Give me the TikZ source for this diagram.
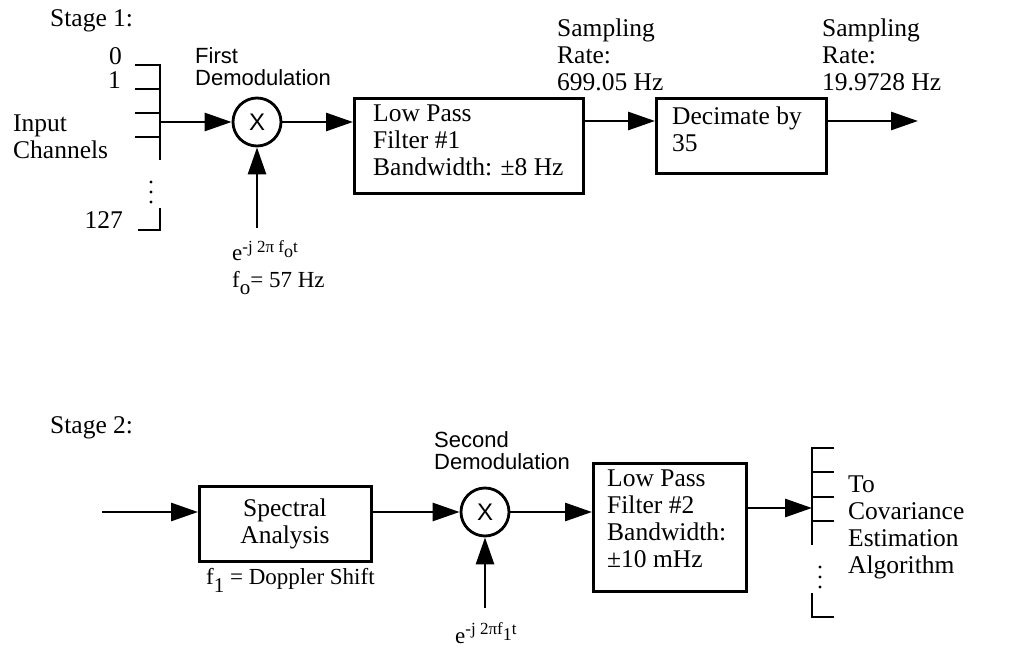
\documentclass[tikz,border=0pt]{standalone}
\usepackage{fontspec}
\setmainfont{Liberation Serif}
\newfontfamily\hsans{Liberation Sans}
\usetikzlibrary{arrows.meta}
\newcommand{\supx}[1]{\raisebox{9pt}{\fontsize{17}{17}\selectfont #1}}
\newcommand{\subx}[1]{\raisebox{-6pt}{\fontsize{18}{18}\selectfont #1}}
\newcommand{\subb}[1]{\raisebox{-8pt}{\fontsize{21}{21}\selectfont #1}}
\begin{document}
\begin{tikzpicture}[x=1pt,y=-1pt,
  txt/.style={inner sep=0pt,font=\fontsize{25.5}{27}\selectfont},
  sml/.style={inner sep=0pt,font=\fontsize{23}{24}\selectfont},
  sans/.style={inner sep=0pt,align=left,font=\hsans\fontsize{22}{22}\selectfont},
  blk/.style={draw,line width=2.8pt,rectangle,inner sep=0pt},
  mix/.style={draw,line width=2.8pt,circle,minimum size=48pt,inner sep=0pt,font=\hsans\fontsize{24}{24}\selectfont},
  flow/.style={line width=2.8pt,-{Triangle[length=27pt,width=18pt]}},
  brk/.style={line width=1.7pt},
  dot/.style={fill,circle,inner sep=0pt,minimum size=3.4pt}]
\useasboundingbox (0,0) rectangle (1019,652);

% ---------- Stage 1 ----------
\node[txt,anchor=base west] (s1) at (50,27) {Stage 1:};
\node[txt,anchor=base east] (c0) at (122,65) {0};
\node[txt,anchor=base east] (c1) at (121,89) {1};
\node[txt,anchor=base east] (c127) at (123,229) {127};
\node[txt,anchor=north west,align=left] (inp) at (13,115) {Input\\Channels};
% input bracket
\coordinate (b1t) at (160,65);
\coordinate (b1m) at (160,122);
\draw[brk] (135,65) -- (b1t) -- (160,160);
\draw[brk] (135,89) -- (160,89);
\draw[brk] (135,113) -- (160,113);
\draw[brk] (135,137) -- (160,137);
\draw[brk] (160,208) -- (160,230) -- (138,230);
\node[dot] (d1a) at (151,182) {};
\node[dot] (d1b) at (151,192) {};
\node[dot] (d1c) at (151,202) {};

\node[mix] (m1) at (257,122) {X};
\node[sans,anchor=north west] (fd) at (195,47) {First\\Demodulation};
\draw[flow] (b1m) -- (m1);
\coordinate (e1) at (257,228);
\draw[flow] (e1) -- (m1);
\node[sml,anchor=base west] (ex1) at (232,261) {e\supx{-j 2π f\subx{o}t}};
\node[sml,anchor=base west] (fo) at (232,287) {f\subb{o}= 57 Hz};

\node[blk,minimum width=229pt,minimum height=95pt,anchor=north west] (lp1) at (353,97) {};
\node[txt,anchor=north west,align=left] (lp1t) at (373,105) {Low Pass\\Filter \#1\\Bandwidth: ±8 Hz};
\draw[flow] (m1) -- (lp1.west |- m1);

\node[txt,anchor=north west,align=left] (sr1) at (557,19) {Sampling\\Rate:\\699.05 Hz};

\node[blk,minimum width=170pt,minimum height=75pt,anchor=north west] (dec) at (655,97) {};
\node[txt,anchor=north west,align=left] (dect) at (672,107) {Decimate by\\35};
\draw[flow] (lp1.east |- 0,121) -- (dec.west |- 0,121);

\coordinate (o1) at (918,121);
\draw[flow] (dec.east |- o1) -- (o1);
\node[txt,anchor=north west,align=left] (sr2) at (822,19) {Sampling\\Rate:\\19.9728 Hz};

% ---------- Stage 2 ----------
\node[txt,anchor=base west] (s2) at (50,433) {Stage 2:};
\coordinate (i2) at (102,512);
\node[blk,minimum width=172pt,minimum height=75pt,anchor=north west] (sa) at (198,485) {};
\node[txt,align=center] (sat) at (285,524) {Spectral\\Analysis};
\draw[flow] (i2) -- (sa.west |- i2);
\node[sml,anchor=base west] (dop) at (206,584) {f\subb{1} = Doppler Shift};

\node[mix] (m2) at (485,512) {X};
\node[sans,anchor=north west] (sd) at (434,431) {Second\\Demodulation};
\draw[flow] (sa.east |- m2) -- (m2);
\coordinate (e2) at (485,608);
\draw[flow] (e2) -- (m2);
\node[sml,anchor=base west] (ex2) at (455,643) {e\supx{-j 2πf\subx{1}t}};

\node[blk,minimum width=153pt,minimum height=128pt,anchor=north west] (lp2) at (592,462) {};
\node[txt,anchor=north west,align=left] (lp2t) at (607,470) {Low Pass\\Filter \#2\\Bandwidth:\\±10 mHz};
\draw[flow] (m2) -- (lp2.west |- m2);

\coordinate (b2m) at (812,508);
\draw[flow] (lp2.east |- b2m) -- (b2m);
\draw[brk] (834,448) -- (812,448) -- (812,545);
\draw[brk] (812,472) -- (834,472);
\draw[brk] (812,497) -- (834,497);
\draw[brk] (812,521) -- (834,521);
\draw[brk] (812,593) -- (812,617) -- (834,617);
\node[dot] (d2a) at (820,567) {};
\node[dot] (d2b) at (820,577) {};
\node[dot] (d2c) at (820,587) {};
\node[txt,anchor=north west,align=left] (tca) at (848,476) {To\\Covariance\\Estimation\\Algorithm};
\end{tikzpicture}
\end{document}
